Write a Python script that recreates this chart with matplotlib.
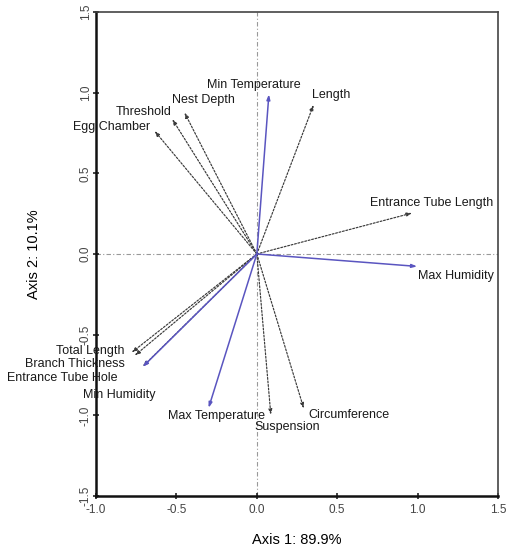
import matplotlib
matplotlib.use("Agg")
import matplotlib.pyplot as plt

plt.rcParams["font.family"] = ["Liberation Sans", "DejaVu Sans"]

# biplot vectors (axis 1, axis 2)
env_names = ["Min Temperature", "Max Humidity", "Min Humidity", "Max Temperature"]
env_x = [0.075, 0.997, -0.71, -0.30]
env_y = [0.99, -0.077, -0.70, -0.954]

nest_names = ["Length", "Nest Depth", "Threshold", "Egg Chamber",
              "Entrance Tube Length", "Total Length", "Branch Thickness",
              "Entrance Tube Hole", "Suspension", "Circumference"]
nest_x = [0.353, -0.45, -0.526, -0.636, 0.966, -0.779, -0.76, -0.71, 0.087, 0.292]
nest_y = [0.925, 0.877, 0.836, 0.763, 0.254, -0.611, -0.63, -0.698, -0.997, -0.958]

# label anchors (x, y, horizontal alignment)
label_pos = {
    "Min Temperature": (-0.02, 1.05, "center"),
    "Length": (0.34, 0.985, "left"),
    "Nest Depth": (-0.53, 0.955, "left"),
    "Threshold": (-0.88, 0.88, "left"),
    "Egg Chamber": (-1.145, 0.79, "left"),
    "Entrance Tube Length": (0.705, 0.318, "left"),
    "Max Humidity": (1.0, -0.135, "left"),
    "Total Length": (-0.82, -0.603, "right"),
    "Branch Thickness": (-0.82, -0.68, "right"),
    "Entrance Tube Hole": (-0.866, -0.77, "right"),
    "Min Humidity": (-1.084, -0.877, "left"),
    "Max Temperature": (-0.555, -1.006, "left"),
    "Suspension": (-0.014, -1.074, "left"),
    "Circumference": (0.32, -1.0, "left"),
}

BLUE = "#5a55c0"

fig = plt.figure(figsize=(5.14, 5.5), dpi=100)
ax = fig.add_axes([0.1868, 0.0982, 0.7822, 0.880])
ax.set_xlim(-1.0, 1.5)
ax.set_ylim(-1.5, 1.5)

ax.axhline(0, color="#999999", lw=0.8, ls=(0, (4, 2, 1, 2)), zorder=1)
ax.axvline(0, color="#999999", lw=0.8, ls=(0, (4, 2, 1, 2)), zorder=1)

for x, y in zip(nest_x, nest_y):
    ax.annotate("", xy=(x, y), xytext=(0, 0),
                arrowprops=dict(arrowstyle="-|>,head_length=0.3,head_width=0.1",
                                color="#3a3a3a", lw=0.85, ls=(0, (1.6, 1.4)),
                                shrinkA=0, shrinkB=0), zorder=2)

for x, y in zip(env_x, env_y):
    ax.annotate("", xy=(x, y), xytext=(0, 0),
                arrowprops=dict(arrowstyle="-|>,head_length=0.3,head_width=0.1",
                                color=BLUE, lw=1.1, shrinkA=0, shrinkB=0), zorder=3)

for name, (lx, ly, ha) in label_pos.items():
    ax.text(lx, ly, name, ha=ha, va="center", fontsize=9, color="#1a1a1a", zorder=4)

ax.set_xticks([-1.0, -0.5, 0.0, 0.5, 1.0, 1.5])
ax.set_yticks([-1.5, -1.0, -0.5, 0.0, 0.5, 1.0, 1.5])
ax.set_xticklabels(["-1.0", "-0.5", "0.0", "0.5", "1.0", "1.5"])
ax.set_yticklabels(["-1.5", "-1.0", "-0.5", "0.0", "0.5", "1.0", "1.5"],
                   rotation=90, va="center")
ax.tick_params(direction="inout", length=5, width=1.2, labelsize=8.5,
               labelcolor="#444444", color="#222222")
ax.tick_params(axis="x", pad=3.5)
ax.tick_params(axis="y", pad=0.5)
for side in ["left", "bottom"]:
    ax.spines[side].set_linewidth(1.8)
    ax.spines[side].set_color("#111111")
for side in ["top", "right"]:
    ax.spines[side].set_linewidth(1.2)
    ax.spines[side].set_color("#444444")

ax.set_xlabel("Axis 1: 89.9%", fontsize=10.5, labelpad=12)
ax.set_ylabel("Axis 2: 10.1%", fontsize=10.5, labelpad=28)

fig.savefig("out.png", dpi=100, facecolor="white")
